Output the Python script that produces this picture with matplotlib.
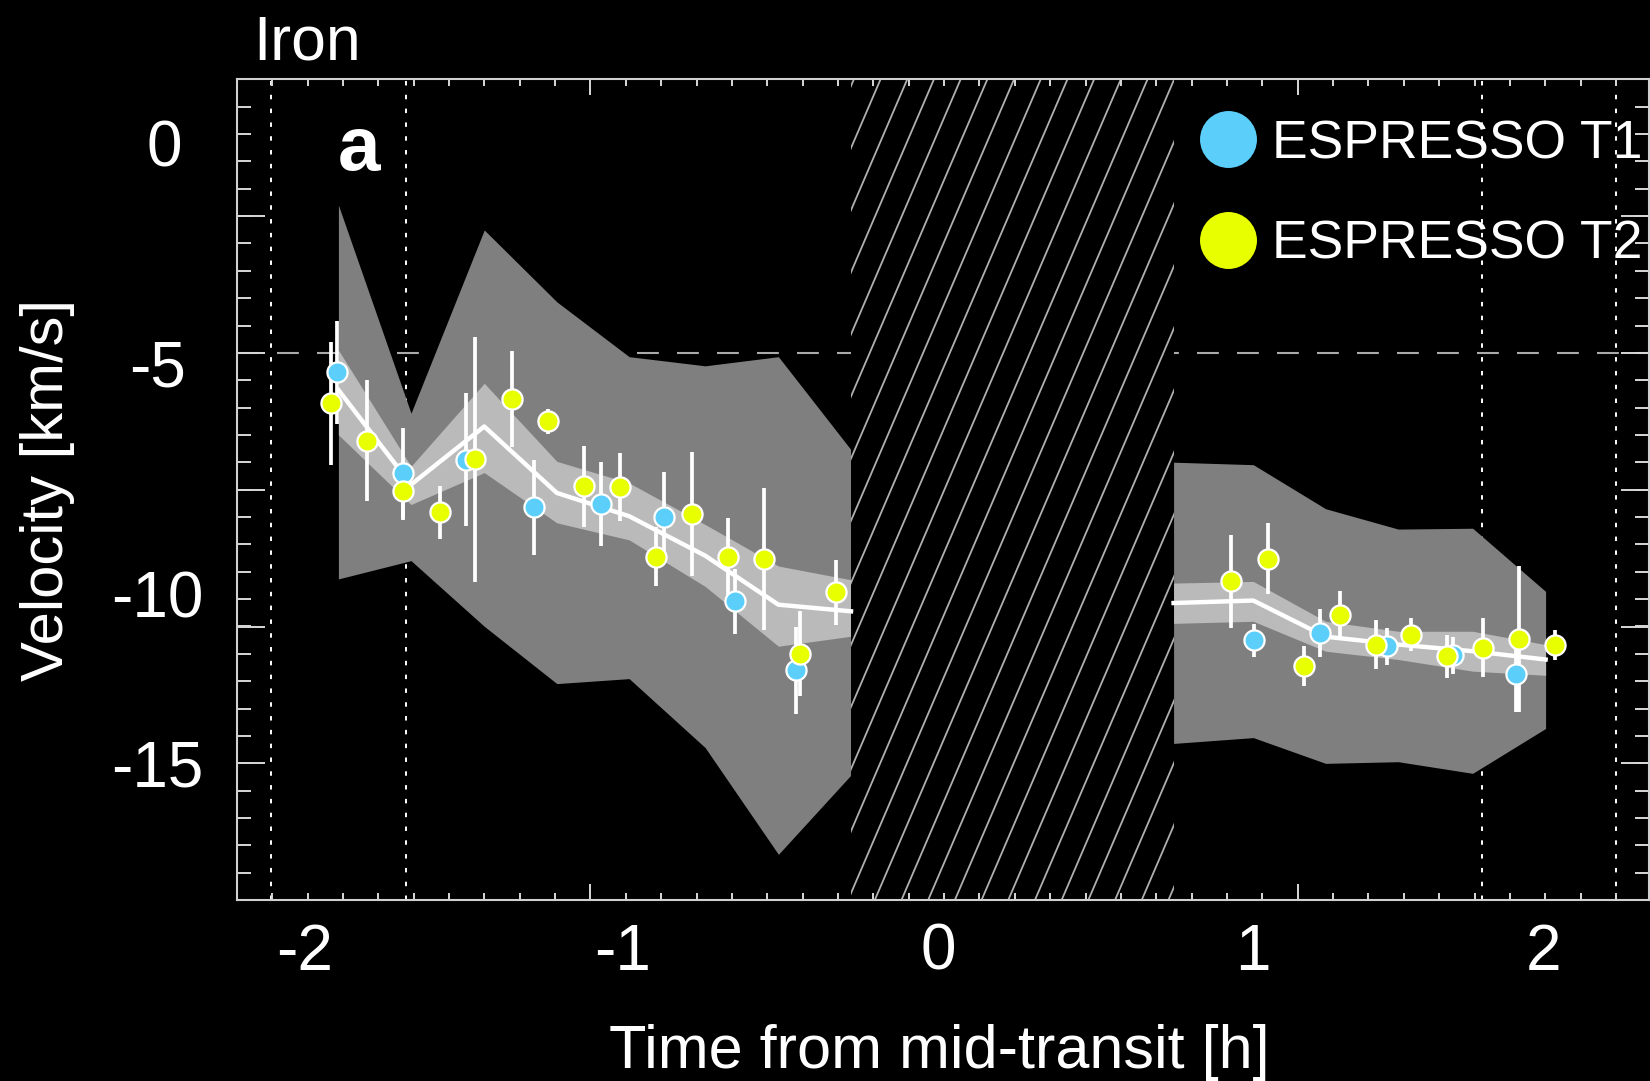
import matplotlib.pyplot as plt
import numpy as np
from matplotlib.lines import Line2D
from matplotlib.patches import Rectangle
from matplotlib.collections import LineCollection

plt.rcParams['font.family'] = ['Liberation Sans', 'DejaVu Sans']

# model bands, before the gap (binned)
t_pre = [-1.931, -1.696, -1.459, -1.224, -0.99, -0.744, -0.507, -0.272]
outer_hi_pre = [-1.44, -6.45, -2.04, -3.77, -5.09, -5.31, -5.09, -7.33]
outer_lo_pre = [-10.44, -10.0, -11.58, -12.96, -12.84, -14.5, -17.07, -15.16]
inner_hi_pre = [-4.93, -7.73, -5.73, -7.61, -8.13, -9.13, -10.13, -10.46]
inner_lo_pre = [-6.97, -8.65, -7.88, -9.09, -9.5, -10.62, -12.06, -11.82]
median_pre = [-5.89, -8.17, -6.77, -8.37, -8.93, -9.88, -11.06, -11.22]

# model bands, after the gap
t_post = [0.772, 1.030, 1.264, 1.499, 1.740, 1.976]
outer_hi_post = [-7.63, -7.69, -8.75, -9.24, -9.22, -10.74]
outer_lo_post = [-14.4, -14.26, -14.88, -14.84, -15.12, -14.04]
inner_hi_post = [-10.54, -10.5, -11.46, -11.7, -11.7, -12.02]
inner_lo_post = [-11.51, -11.46, -12.18, -12.38, -12.66, -12.76]
median_post = [-11.02, -10.96, -11.83, -12.02, -12.18, -12.38]

# ESPRESSO transit 1
t1_time = [-1.934, -1.721, -1.518, -1.298, -1.081, -0.876, -0.647, -0.449,
           1.033, 1.246, 1.462, 1.675, 1.879]
t1_vel = [-5.47, -7.89, -7.57, -8.72, -8.63, -8.96, -10.98, -12.64,
          -11.92, -11.74, -12.06, -12.28, -12.74]
t1_err = [1.24, 1.08, 1.6, 1.14, 1.01, 1.1, 0.78, 1.04,
          0.4, 0.57, 0.45, 0.45, 0.9]

# ESPRESSO transit 2
t2_time = [-1.954, -1.837, -1.721, -1.602, -1.488, -1.370, -1.253, -1.136,
           -1.019, -0.904, -0.785, -0.669, -0.552, -0.436, -0.319,
           0.958, 1.076, 1.193, 1.311, 1.427, 1.540, 1.658, 1.775, 1.890, 2.006]
t2_vel = [-6.21, -7.11, -8.33, -8.84, -7.56, -6.11, -6.65, -8.21,
          -8.23, -9.91, -8.88, -9.91, -9.96, -12.24, -10.76,
          -10.5, -9.95, -12.54, -11.3, -12.02, -11.78, -12.3, -12.1, -11.88, -12.04]
t2_err = [1.48, 1.46, 0.7, 0.64, 2.95, 1.16, 0.3, 0.98,
          0.81, 0.71, 1.5, 0.93, 1.72, 1.02, 0.78,
          1.12, 0.85, 0.48, 0.56, 0.6, 0.39, 0.52, 0.71, 1.76, 0.36]

contacts = [-2.148, -1.713, 1.769, 2.204]
gap = (-0.272, 0.772)
ref_velocity = -5

xtick_vals = [-2.04, -1.01, 0.01, 1.03, 1.97]
xtick_text = ['-2', '-1', '0', '1', '2']
ytick_vals = [0.05, -5.25, -10.8, -14.87]
ytick_text = ['0', '-5', '-10', '-15']

blue = '#5bcefa'
yellow = '#e8ff00'
xlim = (-2.2599, 2.3107)
ylim = (-18.17, 1.586)
pos = [0.1435, 0.1674, 0.8559, 0.7592]

fig = plt.figure(figsize=(16.5, 10.81), dpi=100, facecolor='black')
ax = fig.add_axes(pos)
ax.set_facecolor('black')
ax.set_xlim(xlim)
ax.set_ylim(ylim)

# guide lines
for c in contacts:
    ax.axvline(c, color='white', lw=1.4, ls=(0, (2.3, 4.8)), zorder=0.5)
ax.axhline(ref_velocity, color='#aaaaaa', lw=1.5, ls=(0, (10.5, 8.7)), zorder=0.5)

# bands + median
for t, olo, ohi, ilo, ihi, med in [
        (t_pre, outer_lo_pre, outer_hi_pre, inner_lo_pre, inner_hi_pre, median_pre),
        (t_post, outer_lo_post, outer_hi_post, inner_lo_post, inner_hi_post, median_post)]:
    ax.fill_between(t, olo, ohi, color='#7f7f7f', lw=0, zorder=1)
    ax.fill_between(t, ilo, ihi, color='#bababa', lw=0, zorder=1.5)
    ax.plot(t, med, color='white', lw=3.2, zorder=2)

# hatched gap around mid-transit
rect = Rectangle((gap[0], ylim[0]), gap[1] - gap[0], ylim[1] - ylim[0],
                 facecolor='black', edgecolor='none', zorder=1.8)
ax.add_patch(rect)
slope = 0.0578      # hours per km/s along a hatch line
step = 0.0864       # hours between hatch lines
segs = []
for k in range(-30, 30):
    t0 = -0.2243 + step * k
    segs.append([(t0 + slope * (ylim[0] + 3.727), ylim[0]),
                 (t0 + slope * (ylim[1] + 3.727), ylim[1])])
hatch = LineCollection(segs, colors='#b0b0b0', linewidths=1.3, zorder=1.9)
ax.add_collection(hatch)
hatch.set_clip_path(rect)

# data points
ax.errorbar(t1_time, t1_vel, yerr=t1_err, fmt='none', ecolor='white',
            elinewidth=2.7, capsize=0, zorder=3)
ax.errorbar(t2_time, t2_vel, yerr=t2_err, fmt='none', ecolor='white',
            elinewidth=2.7, capsize=0, zorder=3)
ax.plot(t1_time, t1_vel, 'o', ms=14.5, mfc=blue, mec='white', mew=1.6, zorder=4)
ax.plot(t2_time, t2_vel, 'o', ms=14.5, mfc=yellow, mec='white', mew=1.6, zorder=5)

handles = [Line2D([], [], ls='none', marker='o', ms=41, mfc=blue, mec='none'),
           Line2D([], [], ls='none', marker='o', ms=41, mfc=yellow, mec='none')]
leg = ax.legend(handles, ['ESPRESSO T1', 'ESPRESSO T2'], loc='upper left',
                bbox_to_anchor=(0.6867, 0.9515), frameon=False, fontsize=38.5,
                borderpad=0, borderaxespad=0, handlelength=0.8,
                handletextpad=0.42, labelspacing=0.95)
for txt in leg.get_texts():
    txt.set_color('white')

# tick labels only on the main axes
ax.set_xticks(xtick_vals, xtick_text)
ax.set_yticks(ytick_vals, ytick_text)
ax.tick_params(axis='x', length=0, pad=16.5, labelsize=46, labelcolor='white')
ax.tick_params(axis='y', length=0, pad=57, labelsize=46, labelcolor='white')
for lbl in ax.get_yticklabels():
    lbl.set_ha('center')
ax.get_yticklabels()[0].set_x(0.005)   # the "0" sits a little further right
for s in ax.spines.values():
    s.set_visible(False)

ax.set_xlabel('Time from mid-transit [h]', fontsize=44, color='white')
ax.xaxis.set_label_coords(0.4973, -0.2047)
ax.xaxis.label.set_va('baseline')
ax.set_ylabel('Velocity [km/s]', fontsize=43, color='white')
ax.yaxis.set_label_coords(-0.1343, 0.5)
ax.yaxis.label.set_va('center')

ax.text(0.0866, 0.8895, 'a', transform=ax.transAxes, fontsize=55,
        fontweight='bold', color='white', ha='center', va='baseline')
fig.text(0.1532, 0.945, 'Iron', fontsize=45, color='white', va='baseline')

# frame with its own tick marks (inward, on all sides)
fr = fig.add_axes(pos, facecolor='none')
fr.set_xlim(xlim)
fr.set_ylim(ylim)
fr.set_xticks(np.arange(-1.1165, xlim[1], 2.29))
fr.set_xticks(np.arange(-1.1165 - 10 * 0.1145, xlim[1], 0.1145), minor=True)
fr.set_yticks(np.arange(ylim[0], ylim[1] + 0.01, 3.293))
fr.set_yticks(np.arange(ylim[0], ylim[1] + 0.01, 0.6587), minor=True)
fr.tick_params(which='both', direction='in', top=True, right=True,
               labelbottom=False, labelleft=False, color='#d8d8d8', width=1.4)
fr.tick_params(axis='x', which='major', length=11.5)
fr.tick_params(axis='x', which='minor', length=5)
fr.tick_params(axis='y', which='major', length=20.5)
fr.tick_params(axis='y', which='minor', length=10)
for s in fr.spines.values():
    s.set_color('#d0d0d0')
    s.set_linewidth(1.5)

fig.savefig('out.png', dpi=100, facecolor='black')
